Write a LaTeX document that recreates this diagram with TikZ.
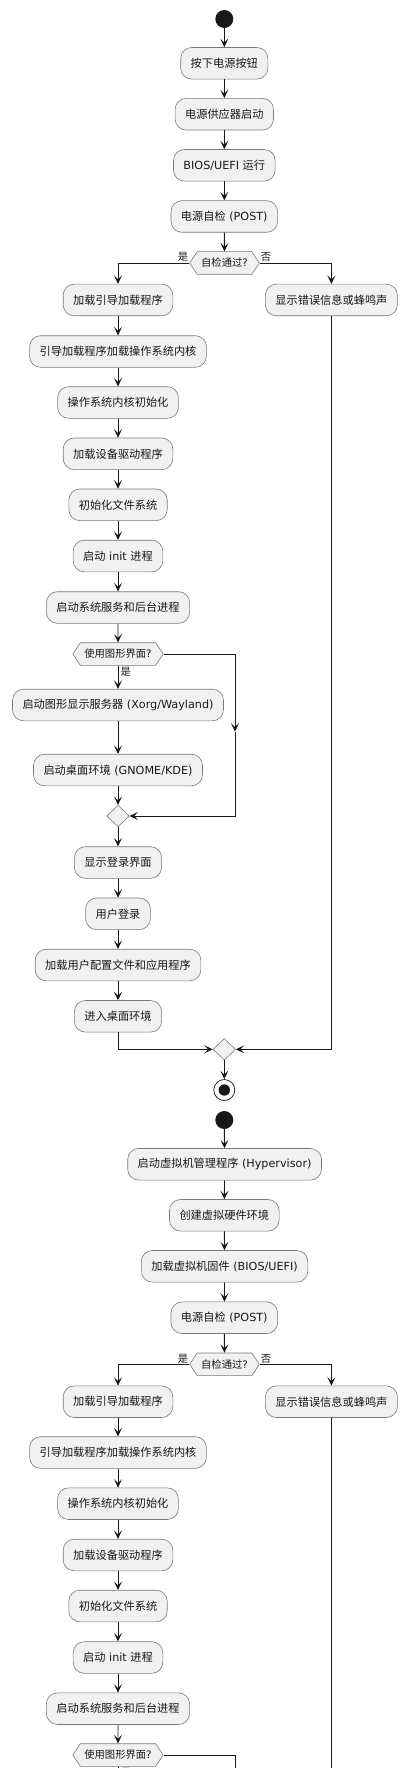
\documentclass[tikz,border=0pt]{standalone}
\usepackage{fontspec}
\setmainfont{DejaVu Sans}
\newfontfamily\cjk{Noto Sans CJK SC}
\usetikzlibrary{arrows.meta,shapes.geometric,shapes.symbols,calc}
\definecolor{boxfill}{HTML}{F1F1F1}
\definecolor{boxline}{HTML}{7A7A7A}
\definecolor{ink}{HTML}{181818}
\newcommand{\zh}[1]{{\cjk #1}}
\begin{document}
\begin{tikzpicture}[x=1pt,y=-1pt,
  act/.style={draw=boxline, line width=0.6pt, fill=boxfill, rounded corners=11pt, minimum height=31.6pt, inner xsep=10pt, inner ysep=2pt, font=\fontsize{11.2}{13}\selectfont, text=ink},
  dec/.style={shape=signal, signal to=west and east, signal pointer angle=112.8, draw=boxline, line width=0.6pt, fill=boxfill, minimum height=22.6pt, inner xsep=4pt, inner ysep=1pt, font=\fontsize{10.3}{12}\selectfont, text=ink},
  mrg/.style={shape=diamond, draw=boxline, line width=0.6pt, fill=boxfill, minimum width=22.6pt, minimum height=21.6pt, inner sep=0pt},
  startn/.style={circle, fill=ink, minimum size=18pt, inner sep=0pt},
  endo/.style={circle, draw=ink, line width=0.7pt, fill=white, minimum size=21pt, inner sep=0pt},
  endi/.style={circle, fill=ink, minimum size=11.4pt, inner sep=0pt},
  lbl/.style={font=\fontsize{10.3}{12}\selectfont, inner sep=1pt, text=ink},
  arr/.style={draw=ink, line width=0.9pt, -{Stealth[length=8.5pt,width=8pt,inset=4pt]}},
  ln/.style={draw=ink, line width=0.9pt}
]
\useasboundingbox (0,0) rectangle (407,1768);
\clip (0,0) rectangle (407,1768);
\fill[white] (0,0) rectangle (407,1768);

% ---------- first diagram ----------
\node[startn] (s1) at (224.3,19) {};
\node[act] (b1) at (224.3,63.3) {\zh{按下电源按钮}};
\node[act] (b2) at (224.3,114.2) {\zh{电源供应器启动}};
\node[act] (b3) at (224.3,165.3) {BIOS/UEFI \zh{运行}};
\node[act] (b4) at (224.3,216.5) {\zh{电源自检} (POST)};
\node[dec] (d1) at (224.5,263) {\zh{自检通过}?};
\node[act] (L1) at (118,300) {\zh{加载引导加载程序}};
\node[act] (E1) at (331.4,300) {\zh{显示错误信息或蜂鸣声}};
\node[act] (L2) at (118,351.5) {\zh{引导加载程序加载操作系统内核}};
\node[act] (L3) at (118,402.5) {\zh{操作系统内核初始化}};
\node[act] (L4) at (118,453.8) {\zh{加载设备驱动程序}};
\node[act] (L5) at (118,504.8) {\zh{初始化文件系统}};
\node[act] (L6) at (118,556) {\zh{启动} init \zh{进程}};
\node[act] (L7) at (118,607.5) {\zh{启动系统服务和后台进程}};
\node[dec] (d2) at (118,654) {\zh{使用图形界面}?};
\node[act] (G1) at (118,705) {\zh{启动图形显示服务器} (Xorg/Wayland)};
\node[act] (G2) at (118,770) {\zh{启动桌面环境} (GNOME/KDE)};
\node[mrg] (m1) at (118,816) {};
\node[act] (S1) at (118,862.5) {\zh{显示登录界面}};
\node[act] (S2) at (118,913.8) {\zh{用户登录}};
\node[act] (S3) at (118,965) {\zh{加载用户配置文件和应用程序}};
\node[act] (S4) at (118,1016.3) {\zh{进入桌面环境}};
\node[mrg] (m2) at (224.3,1049.3) {};
\node[endo] (e1) at (224.3,1090) {};
\node[endi] (e1i) at (224.3,1090) {};
\coordinate (c1) at (235,731.7);

\draw[arr] (s1) -- (b1);
\draw[arr] (b1) -- (b2);
\draw[arr] (b2) -- (b3);
\draw[arr] (b3) -- (b4);
\draw[arr] (b4) -- (d1);
\draw[arr] (d1.west) -| (L1.north);
\draw[arr] (d1.east) -| (E1.north);
\node[lbl, anchor=south east] (y1) at (d1.west) {\zh{是}};
\node[lbl, anchor=south west] (n1) at (d1.east) {\zh{否}};
\draw[arr] (L1) -- (L2);
\draw[arr] (L2) -- (L3);
\draw[arr] (L3) -- (L4);
\draw[arr] (L4) -- (L5);
\draw[arr] (L5) -- (L6);
\draw[arr] (L6) -- (L7);
\draw[arr] (L7) -- (d2);
\draw[arr] (d2.south) -- (G1.north);
\node[lbl, anchor=north west, xshift=1.5pt] (y2) at (d2.south) {\zh{是}};
\draw[arr] (d2.east) -| (c1);
\draw[arr] (c1) |- (m1.east);
\draw[arr] (G1) -- (G2);
\draw[arr] (G2) -- (m1);
\draw[arr] (m1) -- (S1);
\draw[arr] (S1) -- (S2);
\draw[arr] (S2) -- (S3);
\draw[arr] (S3) -- (S4);
\draw[arr] (S4.south) |- (m2.west);
\draw[arr] (E1.south) |- (m2.east);
\draw[arr] (m2) -- (e1);

% ---------- second diagram ----------
\node[startn] (s2) at (224.3,1120) {};
\node[act] (V1) at (224.6,1164.3) {\zh{启动虚拟机管理程序} (Hypervisor)};
\node[act] (V2) at (224.3,1215.3) {\zh{创建虚拟硬件环境}};
\node[act] (V3) at (224.6,1266.3) {\zh{加载虚拟机固件} (BIOS/UEFI)};
\node[act] (V4) at (224.3,1317.7) {\zh{电源自检} (POST)};
\node[dec] (d3) at (224.5,1364.3) {\zh{自检通过}?};
\node[act] (P1) at (118,1401.7) {\zh{加载引导加载程序}};
\node[act] (E2) at (331.4,1401.7) {\zh{显示错误信息或蜂鸣声}};
\node[act] (P2) at (118,1452.5) {\zh{引导加载程序加载操作系统内核}};
\node[act] (P3) at (118,1503.7) {\zh{操作系统内核初始化}};
\node[act] (P4) at (118,1555) {\zh{加载设备驱动程序}};
\node[act] (P5) at (118,1606) {\zh{初始化文件系统}};
\node[act] (P6) at (118,1657.5) {\zh{启动} init \zh{进程}};
\node[act] (P7) at (118,1708.7) {\zh{启动系统服务和后台进程}};
\node[dec] (d4) at (118,1755) {\zh{使用图形界面}?};
\coordinate (o1) at (331.4,1800);
\coordinate (o2) at (235,1800);
\coordinate (o3) at (118,1800);

\draw[arr] (s2) -- (V1);
\draw[arr] (V1) -- (V2);
\draw[arr] (V2) -- (V3);
\draw[arr] (V3) -- (V4);
\draw[arr] (V4) -- (d3);
\draw[arr] (d3.west) -| (P1.north);
\draw[arr] (d3.east) -| (E2.north);
\node[lbl, anchor=south east] (y3) at (d3.west) {\zh{是}};
\node[lbl, anchor=south west] (n3) at (d3.east) {\zh{否}};
\draw[arr] (P1) -- (P2);
\draw[arr] (P2) -- (P3);
\draw[arr] (P3) -- (P4);
\draw[arr] (P4) -- (P5);
\draw[arr] (P5) -- (P6);
\draw[arr] (P6) -- (P7);
\draw[arr] (P7) -- (d4);
\draw[ln] (d4.south) -- (o3);
\node[lbl, anchor=north west, xshift=1.5pt] (y4) at (d4.south) {\zh{是}};
\draw[ln] (d4.east) -| (o2);
\draw[ln] (E2.south) -- (o1);
\end{tikzpicture}
\end{document}
